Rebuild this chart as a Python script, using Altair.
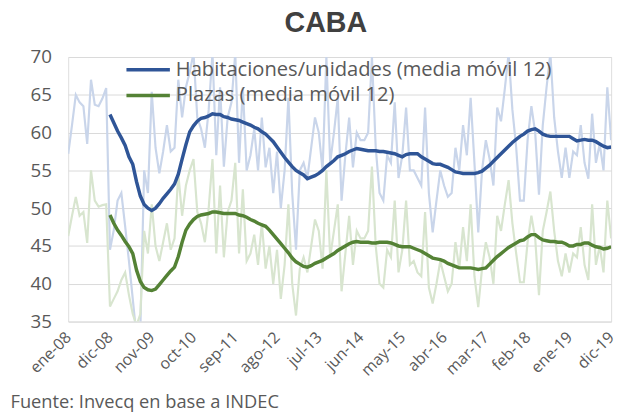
import altair as alt
import pandas as pd

# ---------------- data ----------------
TICK_LABELS = ["ene-08", "dic-08", "nov-09", "oct-10", "sep-11", "ago-12", "jul-13",
               "jun-14", "may-15", "abr-16", "mar-17", "feb-18", "ene-19", "dic-19"]
SERIES = ["Habitaciones/unidades (media móvil 12)", "Plazas (media móvil 12)"]

# monthly raw values, ene-08 .. dic-19 (144 months)
HAB_RAW = [
    57.2, 61.0, 65.0, 64.0, 63.5, 58.5, 67.0, 63.7, 63.5, 64.5, 65.9, 44.5,  # 2008
    47.1, 51.0, 52.0, 47.6, 43.0, 38.0, 33.0, 34.0, 55.0, 52.0, 65.4, 58.0,  # 2009
    54.6, 57.5, 61.0, 57.5, 58.0, 67.0, 62.0, 66.0, 68.0, 70.5, 62.0, 60.5,  # 2010
    58.0, 63.0, 70.5, 57.0, 66.0, 55.5, 62.0, 64.0, 70.5, 56.0, 66.0, 55.0,  # 2011
    57.0, 60.5, 55.0, 62.0, 55.4, 58.0, 52.0, 57.5, 50.0, 55.0, 64.6, 52.0,  # 2012
    44.5, 55.0, 56.0, 54.0, 58.0, 62.0, 60.0, 55.0, 70.0, 56.0, 60.0, 64.6,  # 2013
    51.0, 57.0, 62.0, 55.4, 60.0, 59.0, 59.0, 60.0, 70.0, 58.0, 52.0, 51.0,  # 2014
    57.0, 56.0, 64.0, 54.0, 57.0, 63.3, 55.0, 55.0, 54.0, 53.0, 63.3, 52.0,  # 2015
    46.8, 51.0, 55.0, 53.0, 51.5, 52.0, 58.0, 55.0, 61.0, 57.0, 64.6, 56.0,  # 2016
    46.8, 55.0, 59.0, 56.5, 53.0, 63.3, 61.5, 65.8, 70.5, 63.0, 58.0, 51.0,  # 2017
    51.0, 59.0, 63.5, 60.0, 51.8, 61.0, 66.0, 70.5, 62.0, 57.5, 54.0, 58.0,  # 2018
    54.0, 57.5, 57.0, 61.0, 56.0, 53.9, 62.5, 56.0, 58.5, 55.0, 66.0, 59.0,  # 2019
]
PLZ_RAW = [
    46.3, 49.0, 51.5, 49.0, 49.5, 45.4, 55.0, 51.0, 50.2, 50.4, 50.5, 37.0,  # 2008
    38.0, 39.0, 40.5, 41.5, 38.5, 36.0, 34.5, 36.0, 47.0, 44.0, 50.5, 45.0,  # 2009
    43.0, 45.5, 48.0, 44.5, 46.0, 54.5, 49.0, 53.0, 55.0, 56.5, 49.5, 48.0,  # 2010
    45.5, 50.0, 56.5, 44.0, 53.0, 43.5, 49.5, 51.0, 56.0, 44.0, 52.5, 43.0,  # 2011
    44.0, 46.5, 42.5, 48.0, 42.0, 45.0, 40.0, 44.5, 38.0, 42.5, 50.5, 40.0,  # 2012
    35.8, 42.0, 43.5, 41.5, 45.0, 48.5, 47.0, 42.0, 55.0, 43.5, 47.0, 50.5,  # 2013
    39.0, 44.0, 49.0, 42.5, 47.0, 46.0, 46.0, 47.0, 55.5, 45.0, 40.0, 39.5,  # 2014
    44.5, 43.5, 51.0, 41.5, 44.5, 51.0, 42.5, 43.0, 41.5, 41.0, 49.5, 39.5,  # 2015
    37.4, 40.0, 43.0, 41.0, 39.0, 40.0, 45.5, 42.0, 47.5, 43.0, 50.5, 41.0,  # 2016
    36.9, 42.0, 45.5, 43.5, 40.0, 49.0, 47.0, 50.5, 53.7, 48.0, 44.0, 40.2,  # 2017
    40.2, 45.5, 49.0, 46.0, 38.5, 47.0, 49.5, 52.2, 47.0, 43.0, 41.0, 44.0,  # 2018
    41.5, 44.0, 43.5, 47.5, 42.5, 40.5, 50.5, 42.5, 45.0, 41.5, 51.0, 46.0,  # 2019
]

# 12-month moving averages, dic-08 .. dic-19 (133 months)
MA_START = 11
HAB_MA = [
    62.4,                                                                    # dic-08
    61.3, 60.2, 59.3, 58.3, 56.8, 55.8, 53.5, 51.6, 50.5, 50.0, 49.7, 50.0,  # 2009
    50.6, 51.3, 51.9, 52.5, 53.2, 54.5, 56.5, 58.4, 60.1, 60.9, 61.5, 61.9,  # 2010
    62.0, 62.2, 62.5, 62.4, 62.4, 62.1, 62.0, 61.8, 61.7, 61.6, 61.4, 61.2,  # 2011
    61.0, 60.7, 60.5, 60.1, 59.8, 59.3, 58.8, 58.1, 57.4, 56.7, 56.1, 55.5,  # 2012
    55.0, 54.7, 54.4, 53.9, 54.1, 54.3, 54.6, 55.0, 55.5, 55.9, 56.3, 56.8,  # 2013
    57.0, 57.2, 57.5, 57.7, 57.9, 57.8, 57.7, 57.6, 57.6, 57.6, 57.5, 57.5,  # 2014
    57.4, 57.3, 57.2, 57.0, 56.8, 57.1, 57.2, 57.2, 57.2, 56.8, 56.5, 56.2,  # 2015
    55.9, 55.8, 55.8, 55.6, 55.4, 55.1, 54.8, 54.7, 54.6, 54.6, 54.6, 54.6,  # 2016
    54.7, 54.9, 55.3, 55.7, 56.2, 56.7, 57.2, 57.7, 58.2, 58.7, 59.1, 59.5,  # 2017
    59.8, 60.2, 60.4, 60.5, 60.2, 59.8, 59.6, 59.5, 59.5, 59.5, 59.5, 59.5,  # 2018
    59.5, 59.2, 58.9, 59.0, 59.1, 59.0, 59.0, 58.8, 58.5, 58.2, 58.0, 58.1,  # 2019
]
PLZ_MA = [
    49.1,                                                                    # dic-08
    48.0, 47.1, 46.4, 45.6, 44.9, 44.0, 41.8, 40.3, 39.5, 39.2, 39.1, 39.3,  # 2009
    39.9, 40.5, 41.1, 41.7, 42.2, 43.6, 45.5, 47.1, 47.9, 48.5, 48.9, 49.1,  # 2010
    49.2, 49.3, 49.5, 49.5, 49.4, 49.3, 49.3, 49.3, 49.3, 49.1, 49.0, 48.8,  # 2011
    48.5, 48.3, 48.0, 47.8, 47.6, 47.1, 46.5, 45.9, 45.3, 44.7, 44.1, 43.4,  # 2012
    42.9, 42.6, 42.3, 42.2, 42.4, 42.7, 42.9, 43.1, 43.4, 43.7, 44.0, 44.4,  # 2013
    44.7, 45.0, 45.3, 45.5, 45.6, 45.5, 45.5, 45.5, 45.4, 45.4, 45.5, 45.5,  # 2014
    45.5, 45.4, 45.2, 45.0, 44.9, 44.9, 44.9, 44.7, 44.5, 44.3, 44.0, 43.7,  # 2015
    43.4, 43.3, 43.2, 43.0, 42.7, 42.5, 42.3, 42.1, 42.1, 42.1, 42.1, 42.0,  # 2016
    41.9, 42.0, 42.1, 42.6, 43.1, 43.6, 44.0, 44.4, 44.8, 45.1, 45.4, 45.7,  # 2017
    45.8, 46.2, 46.5, 46.5, 46.1, 45.8, 45.7, 45.6, 45.6, 45.5, 45.5, 45.3,  # 2018
    45.0, 45.0, 45.2, 45.2, 45.4, 45.4, 45.1, 44.9, 44.8, 44.6, 44.7, 44.9,  # 2019
]

# ---------------- tables ----------------
hab_raw = pd.DataFrame({"idx": range(len(HAB_RAW)), "v": HAB_RAW})
plz_raw = pd.DataFrame({"idx": range(len(PLZ_RAW)), "v": PLZ_RAW})
hab_ma = pd.DataFrame({"idx": range(MA_START, MA_START + len(HAB_MA)), "v": HAB_MA})
plz_ma = pd.DataFrame({"idx": range(MA_START, MA_START + len(PLZ_MA)), "v": PLZ_MA})

FONT = "Open Sans"
GREY = "#595959"
C_HAB, C_PLZ = "#2f5597", "#548235"
C_HAB_L, C_PLZ_L = "#c9d5ea", "#d8e5cf"

label_expr = "[" + ",".join("'%s'" % s for s in TICK_LABELS) + "][round(datum.value / 11)]"

x_enc = alt.X(
    "idx:Q",
    scale=alt.Scale(domain=[0, 143], nice=False, zero=False),
    axis=alt.Axis(
        values=list(range(0, 144, 11)), labelExpr=label_expr, labelAngle=-45,
        labelAlign="right", labelBaseline="middle", labelFontSize=16, labelColor=GREY,
        labelFont=FONT, labelPadding=13, ticks=False, domain=False, grid=False,
        labelOverlap=False, labelBound=False, labelFlush=False,
        title="Fuente: Invecq en base a INDEC", titleFont=FONT, titleFontSize=18.5,
        titleFontWeight="normal", titleColor=GREY, titleAnchor="start",
        titleAlign="left", titleBaseline="alphabetic", titleX=-59, titleY=87,
    ),
)
y_enc = alt.Y(
    "v:Q",
    scale=alt.Scale(domain=[35, 70], nice=False, zero=False),
    axis=alt.Axis(
        values=[35, 40, 45, 50, 55, 60, 65, 70], grid=True, gridColor="#d9d9d9",
        gridWidth=1, domain=False, ticks=False, title=None, labelFontSize=19,
        labelColor=GREY, labelFont=FONT, labelPadding=17,
    ),
)

raw_h = alt.Chart(hab_raw).mark_line(strokeWidth=2.2, clip=True, color=C_HAB_L).encode(x=x_enc, y=y_enc)
raw_p = alt.Chart(plz_raw).mark_line(strokeWidth=2.2, clip=True, color=C_PLZ_L).encode(x=x_enc, y=y_enc)
ma_h = alt.Chart(hab_ma).mark_line(strokeWidth=3.5, clip=True, color=C_HAB).encode(x=x_enc, y=y_enc)
ma_p = alt.Chart(plz_ma).mark_line(strokeWidth=3.5, clip=True, color=C_PLZ).encode(x=x_enc, y=y_enc)

leg1 = pd.DataFrame({"s": [SERIES[0]]})
leg2 = pd.DataFrame({"s": [SERIES[1]]})
leg_r1 = alt.Chart(leg1).mark_rule(strokeWidth=3.5, color=C_HAB).encode(
    x=alt.value(59), x2=alt.value(103), y=alt.value(13))
leg_r2 = alt.Chart(leg2).mark_rule(strokeWidth=3.5, color=C_PLZ).encode(
    x=alt.value(59), x2=alt.value(103), y=alt.value(39))
leg_t1 = alt.Chart(leg1).mark_text(align="left", baseline="middle", fontSize=20.4,
                                   font=FONT, color=GREY).encode(
    x=alt.value(109), y=alt.value(13), text="s:N")
leg_t2 = alt.Chart(leg2).mark_text(align="left", baseline="middle", fontSize=20.4,
                                   font=FONT, color=GREY).encode(
    x=alt.value(109), y=alt.value(39), text="s:N")

chart = alt.layer(raw_h, raw_p, ma_h, ma_p, leg_r1, leg_r2, leg_t1, leg_t2).properties(
    width=550,
    height=268,
    padding={"left": 61, "top": 47, "right": 9, "bottom": 92},
    autosize=alt.AutoSizeParams(type="none"),
    title=alt.TitleParams("CABA", font="Liberation Sans", fontSize=29, fontWeight="bold",
                          color="#404040", offset=10, dx=-14, anchor="middle"),
).configure_view(stroke=None).configure(background="white")

chart.save("out.html", embed_options={"renderer": "svg", "actions": False})
